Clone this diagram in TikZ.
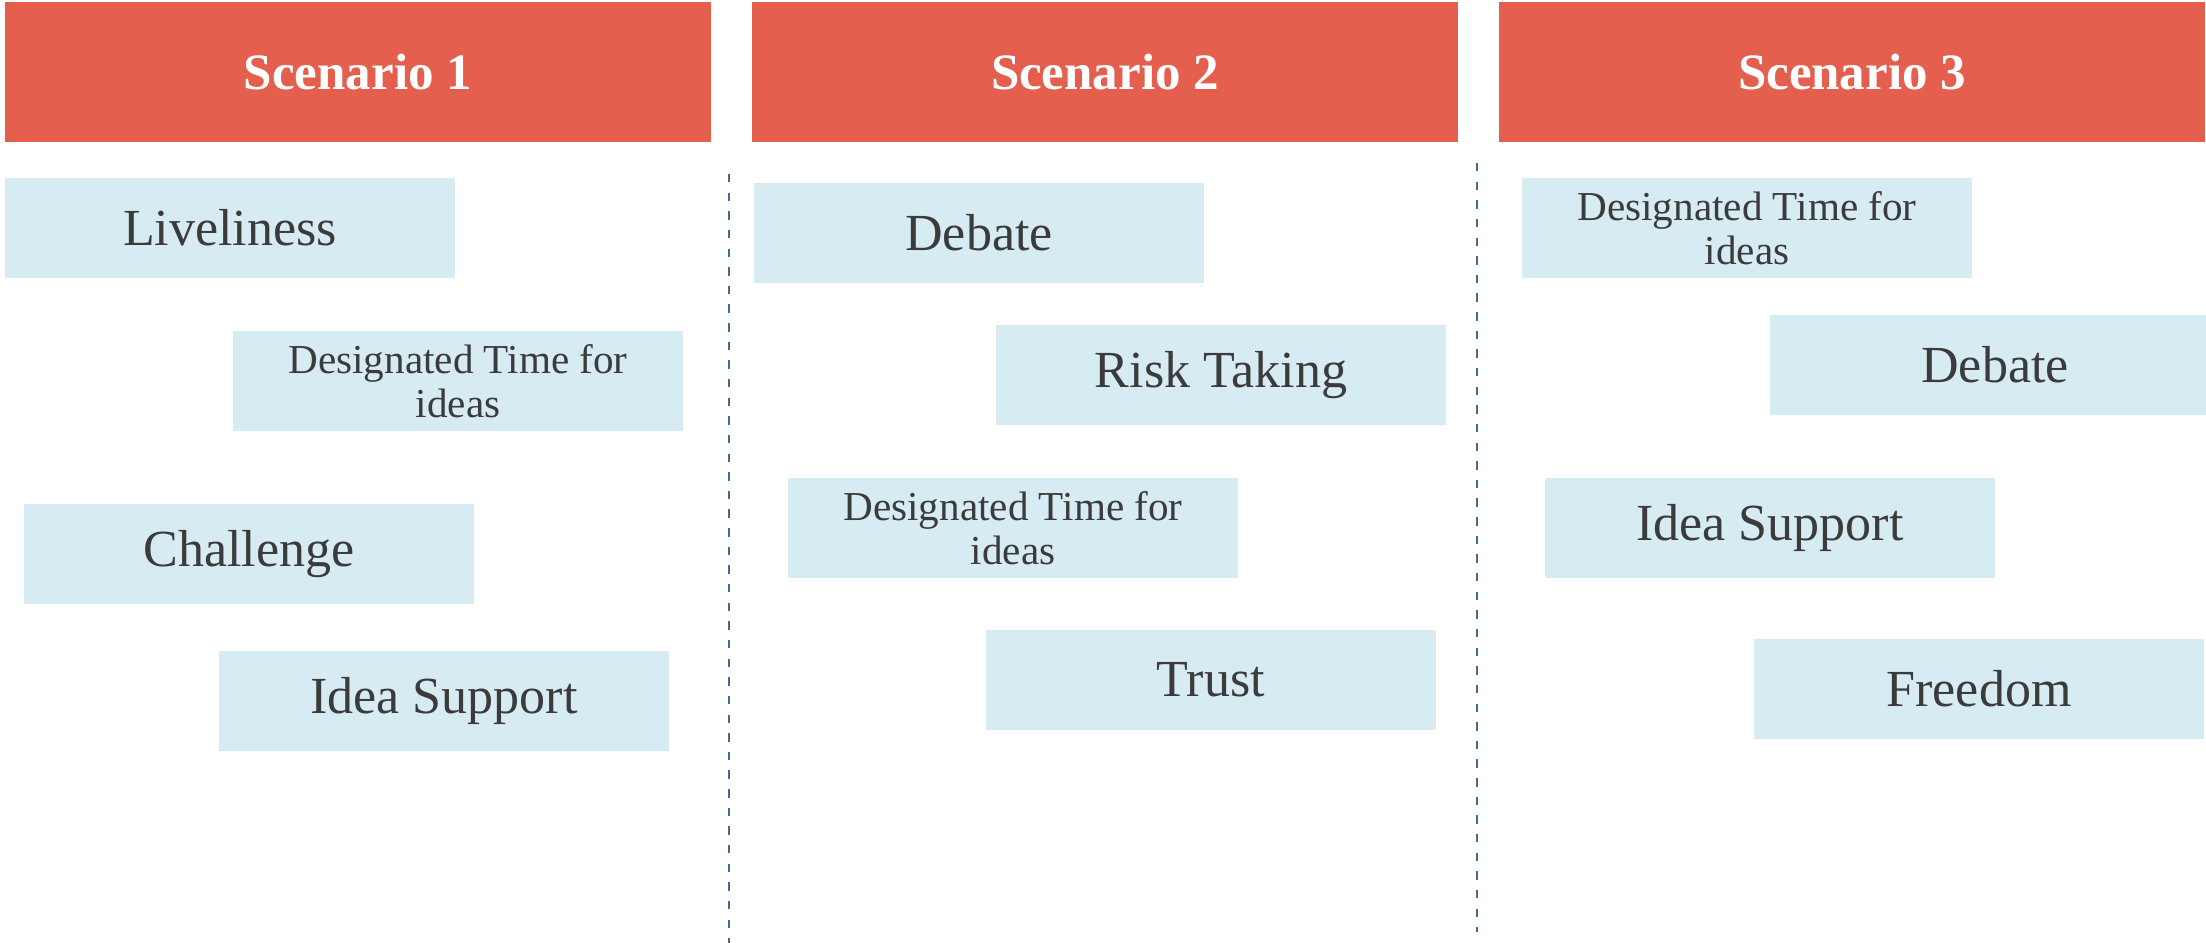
\documentclass[tikz,border=0pt]{standalone}
\usepackage{fontspec}
\setmainfont{Liberation Serif}
\usepackage{tikz}

\definecolor{scenred}{HTML}{E55F4E}
\definecolor{ideablue}{HTML}{D7EBF3}
\definecolor{inktext}{HTML}{3B3B3B}
\definecolor{dashblue}{HTML}{46698C}

\begin{document}
\begin{tikzpicture}[x=0.01cm,y=-0.01cm,
                    header/.style={fill=scenred, text=white, inner sep=0pt,
                                   minimum width=7.06cm, minimum height=1.4cm,
                                   font=\bfseries\fontsize{14.5}{17}\selectfont},
                    idea/.style={fill=ideablue, text=inktext, inner sep=0pt,
                                 minimum width=4.5cm, minimum height=1cm,
                                 font=\fontsize{14.8}{17}\selectfont},
                    smallidea/.style={idea, align=center,
                                      font=\fontsize{11.7}{12.4}\selectfont},
                    divider/.style={draw=dashblue, line width=0.75pt,
                                    dash pattern=on 2.4pt off 2.9pt}]
    \useasboundingbox (0,0) rectangle (2206,943);
    \clip (0,0) rectangle (2206,943);

    % headers
    \node[header] (scen1) at (358,72) {Scenario 1};
    \node[header] (scen2) at (1105,72) {Scenario 2};
    \node[header] (scen3) at (1852,72) {Scenario 3};

    % scenario 1
    \node[idea] (live1) at (230,228) {Liveliness};
    \node[smallidea] (time1) at (458,381) {Designated Time for\\ideas};
    \node[idea] (chal1) at (249,554) {Challenge};
    \node[idea] (supp1) at (444,701) {Idea Support};

    % scenario 2
    \node[idea] (deb2) at (979,233) {Debate};
    \node[idea] (risk2) at (1221,375) {Risk Taking};
    \node[smallidea] (time2) at (1013,528) {Designated Time for\\ideas};
    \node[idea] (trust2) at (1211,680) {Trust};

    % scenario 3
    \node[smallidea] (time3) at (1747,228) {Designated Time for\\ideas};
    \node[idea] (deb3) at (1995,365) {Debate};
    \node[idea] (supp3) at (1770,528) {Idea Support};
    \node[idea] (free3) at (1979,689) {Freedom};

    % dividers
    \draw[divider] (729,174) -- (729,943);
    \draw[divider] (1477,163) -- (1477,932);
\end{tikzpicture}
\end{document}
